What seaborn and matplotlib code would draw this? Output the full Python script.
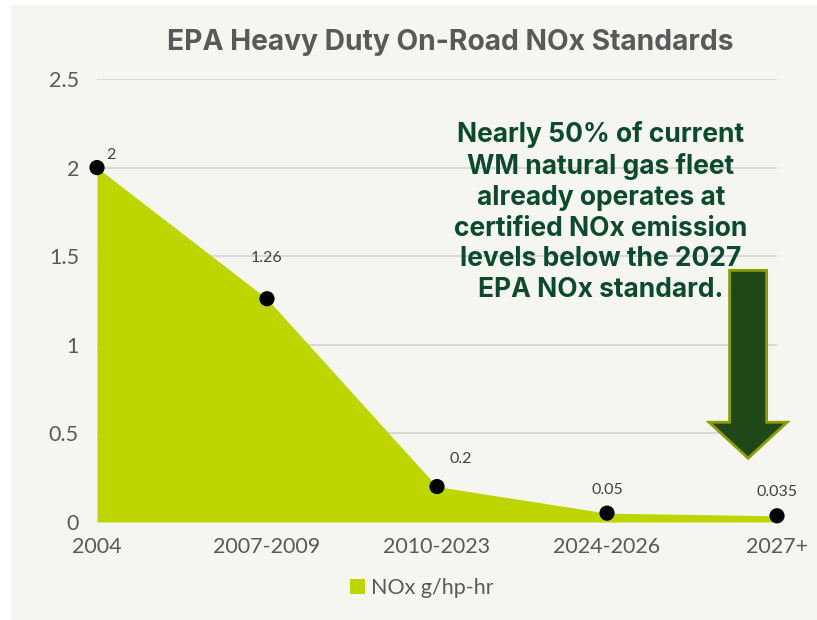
import matplotlib
matplotlib.use("Agg")
import matplotlib.pyplot as plt
from matplotlib.patches import Rectangle, FancyArrow, Patch
import seaborn as sns
import pandas as pd

# dados do gráfico
periodos = ["2004", "2007-2009", "2010-2023", "2024-2026", "2027+"]
nox = [2, 1.26, 0.2, 0.05, 0.035]
rotulos = ["2", "1.26", "0.2", "0.05", "0.035"]

df = pd.DataFrame({"periodo": periodos, "nox": nox})
df["pos"] = range(len(df))

sns.set_theme(style="white")
plt.rcParams["font.family"] = ["Lato", "DejaVu Sans"]

cinza = "#595959"
verde = "#bed600"

fig = plt.figure(figsize=(8.17, 6.2), dpi=100, facecolor="white")
# painel de fundo
fig.patches.append(Rectangle((11 / 817, 0), 1, 615 / 620, transform=fig.transFigure,
                             facecolor="#f6f6f1", edgecolor="none", zorder=-10))

ax = fig.add_axes([97 / 817, 98 / 620, 680 / 817, 443 / 620])
ax.set_facecolor("none")

# área
ax.fill_between(df["pos"], df["nox"], color=verde, linewidth=0, zorder=2)

# pontos
sns.scatterplot(data=df, x="pos", y="nox", color="black", s=120, edgecolor="none",
                ax=ax, zorder=4, clip_on=False, legend=False)

# rótulos dos pontos
offsets = [(10, 9), (0, 29), (17, 20), (0, 17), (0, 17)]
for x, y, txt, off in zip(df["pos"], df["nox"], rotulos, offsets):
    ax.annotate(txt, (x, y), xytext=off, textcoords="offset points",
                ha="center", va="center", fontsize=11.5, color="#404040")

ax.set_xlim(0, 4)
ax.set_ylim(0, 2.5)
ax.set_yticks([0, 0.5, 1, 1.5, 2, 2.5])
ax.set_yticklabels(["0", "0.5", "1", "1.5", "2", "2.5"])
ax.set_xticks(df["pos"])
ax.set_xticklabels(periodos)
ax.tick_params(axis="both", labelsize=15.5, labelcolor=cinza, length=0)
ax.tick_params(axis="y", pad=13)
ax.tick_params(axis="x", pad=11)
ax.grid(axis="y", color="#d9d9d9", linewidth=1.5, zorder=1)
ax.set_axisbelow(True)
ax.set_xlabel("")
ax.set_ylabel("")
for s in ax.spines.values():
    s.set_visible(False)

# seta
ax.add_patch(FancyArrow(3.83, 1.42, 0, -1.06, width=0.218, head_width=0.459,
                        head_length=0.203, length_includes_head=True, clip_on=False,
                        facecolor="#1f4718", edgecolor="#8c9e00", linewidth=2, zorder=5))

# título e texto
fig.text(450 / 817, 1 - 42 / 620, "EPA Heavy Duty On-Road NOx Standards",
         ha="center", va="center", fontsize=20.3, fontweight="bold", color=cinza,
         family=["Inter", "DejaVu Sans"])
fig.text(601 / 817, 1 - 212 / 620,
         "Nearly 50% of current\nWM natural gas fleet\nalready operates at\n"
         "certified NOx emission\nlevels below the 2027\nEPA NOx standard.",
         ha="center", va="center", fontsize=19, fontweight="bold", color="#0d4a2c",
         linespacing=1.24, zorder=3, family=["Inter", "DejaVu Sans"])

# legenda
fig.legend(handles=[Patch(facecolor=verde, edgecolor="none", label="NOx g/hp-hr")],
           loc="center", bbox_to_anchor=(422 / 817, 1 - 588 / 620), frameon=False,
           fontsize=15.5, labelcolor=cinza, handlelength=0.7, handleheight=0.7,
           handletextpad=0.3)

fig.savefig("out.png", dpi=100, facecolor=fig.get_facecolor())
